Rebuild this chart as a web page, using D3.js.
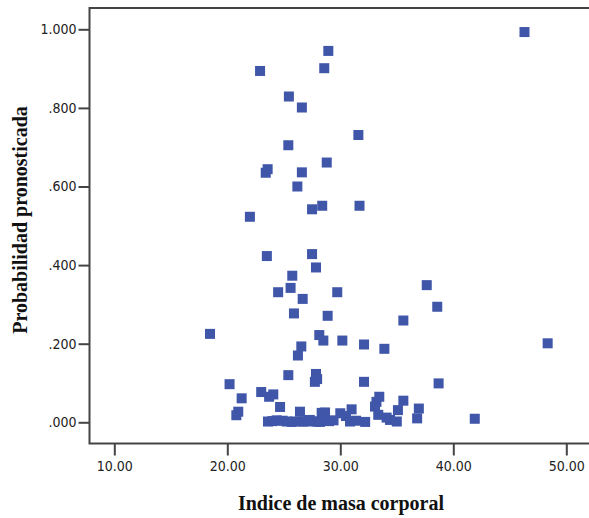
<!DOCTYPE html>
<html>
<head>
<meta charset="utf-8">
<script src="https://d3js.org/d3.v7.min.js"></script>
<style>
  body { margin: 0; background: #fff; }
  .tick text { font-family: "DejaVu Sans Condensed", "Liberation Sans", sans-serif; font-size: 14px; fill: #222; }
  .title { font-family: "Liberation Serif", serif; font-weight: bold; font-size: 20px; fill: #111; }
</style>
</head>
<body>
<script>
// Indice de masa corporal (x) vs probabilidad pronosticada (y)
var imc = [46.3, 28.94, 22.9, 28.58, 25.45, 26.6, 25.4, 31.6, 28.8, 23.4,
  23.57, 26.6, 26.2, 28.4, 27.5, 31.7, 22.0, 27.5, 23.5, 27.85,
  25.75, 37.65, 25.6, 24.5, 29.73, 26.67, 38.58, 25.9, 28.88, 35.58,
  18.47, 28.14, 28.5, 30.18, 32.1, 48.35, 33.9, 26.55, 26.25, 25.4,
  27.85, 27.95, 27.75, 32.1, 38.7, 20.2, 23.0, 24.07, 23.7, 21.27,
  24.67, 20.97, 20.8, 33.45, 33.2, 33.07, 35.58, 35.1, 36.95, 36.8,
  33.36, 41.9, 32.2, 31.0, 30.5, 30.0, 29.4, 28.35, 28.65, 27.96,
  26.43, 26.7, 25.99, 30.86, 34.4, 35.0, 34.1, 23.6, 24.37, 25.26,
  25.7, 26.88, 27.76, 28.2, 24.0, 29.0, 31.4, 27.3, 24.9];
var prob = [0.993, 0.945, 0.894, 0.901, 0.829, 0.801, 0.705, 0.731, 0.661, 0.635,
  0.644, 0.636, 0.600, 0.551, 0.542, 0.551, 0.523, 0.428, 0.423, 0.394,
  0.373, 0.349, 0.342, 0.331, 0.331, 0.314, 0.294, 0.277, 0.271, 0.259,
  0.225, 0.222, 0.208, 0.208, 0.198, 0.201, 0.187, 0.193, 0.170, 0.120,
  0.123, 0.110, 0.103, 0.103, 0.099, 0.097, 0.077, 0.071, 0.065, 0.061,
  0.039, 0.027, 0.018, 0.065, 0.052, 0.040, 0.055, 0.031, 0.035, 0.010,
  0.019, 0.009, 0.001, 0.033, 0.016, 0.023, 0.005, 0.024, 0.025, 0.002,
  0.027, 0.002, 0.002, 0.002, 0.006, 0.002, 0.012, 0.002, 0.005, 0.002,
  0.001, 0.002, 0.002, 0.001, 0.003, 0.003, 0.004, 0.006, 0.004];
var xTicks = [10, 20, 30, 40, 50];
var yTicks = [0, 0.2, 0.4, 0.6, 0.8, 1.0];

var width = 589, height = 518;
var svg = d3.select("body").append("svg")
    .attr("width", width)
    .attr("height", height);

var frame = { left: 89.5, top: 8, right: 592, bottom: 443.5 };

var x = d3.scaleLinear().domain([10, 50]).range([114.3, 566.3]);
var y = d3.scaleLinear().domain([0, 1]).range([422.3, 29.3]);

// frame
svg.append("rect")
    .attr("x", frame.left)
    .attr("y", frame.top)
    .attr("width", frame.right - frame.left)
    .attr("height", frame.bottom - frame.top)
    .attr("fill", "none")
    .attr("stroke", "#444")
    .attr("stroke-width", 2);

var fmt = function (d) {
  var s = d3.format(".3f")(d);
  return s.charAt(0) === "0" ? s.slice(1) : s;
};

var yAxis = svg.append("g")
    .attr("transform", "translate(" + frame.left + ",0)")
    .call(d3.axisLeft(y).tickValues(yTicks).tickFormat(fmt).tickSize(11).tickPadding(2));
var xAxis = svg.append("g")
    .attr("transform", "translate(0," + frame.bottom + ")")
    .call(d3.axisBottom(x).tickValues(xTicks).tickFormat(d3.format(".2f")).tickSize(12).tickPadding(6));

[yAxis, xAxis].forEach(function (g) {
  g.select(".domain").remove();
  g.selectAll(".tick line").attr("stroke", "#444").attr("stroke-width", 2);
});

// points
var pts = d3.range(imc.length).map(function (i) { return [imc[i], prob[i]]; });
var s = 10;
svg.append("g").selectAll("rect.pt")
  .data(pts)
  .enter()
  .append("rect")
    .attr("class", "pt")
    .attr("x", function (d) { return x(d[0]) - s / 2; })
    .attr("y", function (d) { return y(d[1]) - s / 2; })
    .attr("width", s)
    .attr("height", s)
    .attr("fill", "#3f56a9");

// axis titles
svg.append("text")
    .attr("class", "title")
    .attr("x", 341)
    .attr("y", 510)
    .attr("text-anchor", "middle")
    .text("Indice de masa corporal");

svg.append("text")
    .attr("class", "title")
    .attr("transform", "translate(27,220) rotate(-90)")
    .attr("text-anchor", "middle")
    .text("Probabilidad pronosticada");
</script>
</body>
</html>
